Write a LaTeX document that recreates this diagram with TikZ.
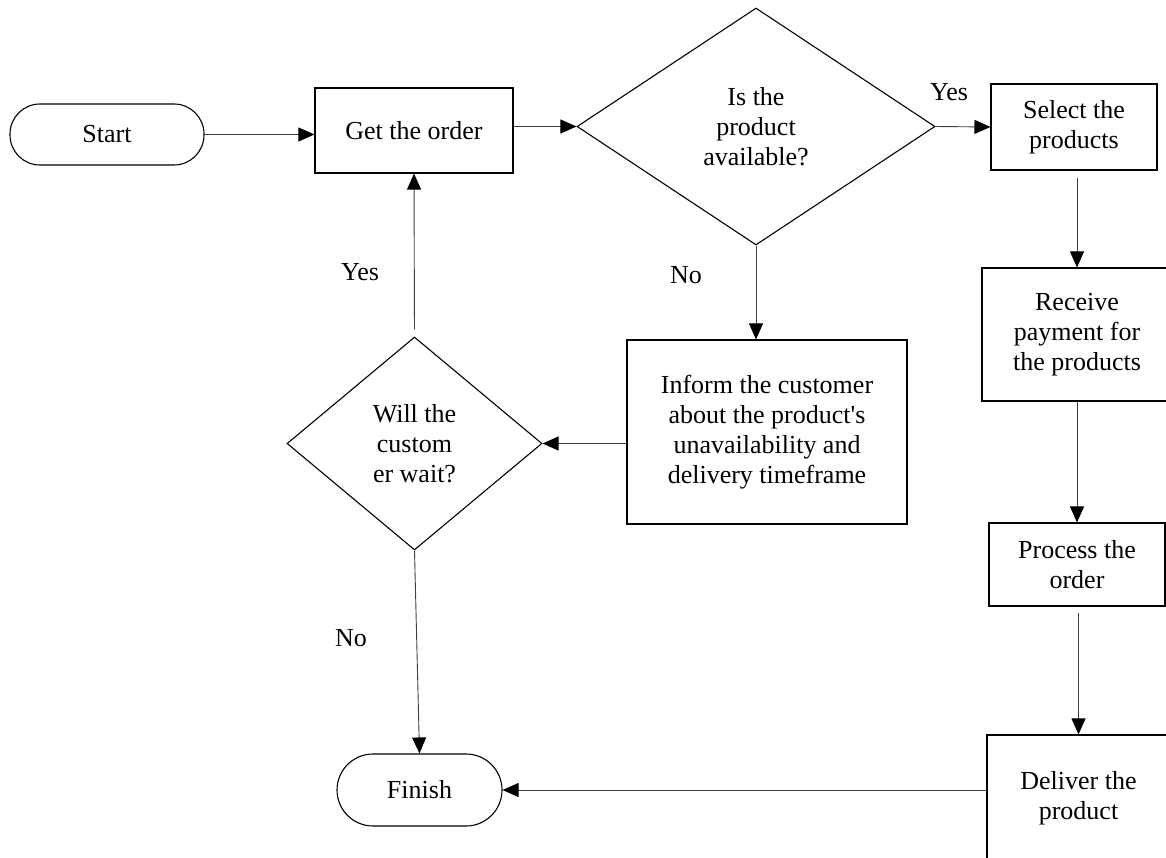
\documentclass[tikz,border=0pt]{standalone}
\usepackage{fontspec}
\setmainfont{Liberation Serif}[Ligatures=TeXOff]
\usetikzlibrary{shapes.geometric,arrows.meta,calc}
\begin{document}
\begin{tikzpicture}[x=1pt,y=-1pt,
  every node/.style={font=\fontsize{26}{30}\selectfont, align=center, inner sep=0pt},
  boxnode/.style={draw=black, line width=1.1pt, rectangle},
  termnode/.style={draw=black, line width=1.1pt, rectangle, rounded corners=#1},
  decnode/.style={draw=black, line width=1.1pt, diamond},
  conn/.style={draw=black!75, line width=0.9pt, -{Triangle[length=16pt,width=14pt,color=black]}},
  lbl/.style={}
]
\useasboundingbox (0,0) rectangle (1166,858);
\clip (0,0) rectangle (1166,858);

\node[termnode=30pt, minimum width=194pt, minimum height=61pt] (start) at (107,134.5) {Start};
\node[boxnode, minimum width=198pt, minimum height=85pt] (get) at (414,130.5) {Get the order};
\node[decnode, minimum width=358pt, minimum height=237pt] (d1) at (756,126.5) {Is the\\product\\available?};
\node[boxnode, minimum width=166pt, minimum height=86pt] (sel) at (1074,127) {Select the\\products};
\node[boxnode, minimum width=190pt, minimum height=133pt] (rec) at (1077,334.5) {Receive\\payment for\\the products};
\node[boxnode, minimum width=176pt, minimum height=83pt] (proc) at (1077,564.5) {Process the\\order};
\node[boxnode, minimum width=183pt, minimum height=126pt] (del) at (1078.5,798) {Deliver the\\product};
\node[boxnode, minimum width=280pt, minimum height=184pt] (inf) at (767,432) {Inform the customer\\about the product's\\unavailability and\\delivery timeframe};
\node[decnode, minimum width=255pt, minimum height=213pt] (d2) at (414.5,443.5) {Will the\\custom\\er wait?};
\node[termnode=36pt, minimum width=165pt, minimum height=72pt] (fin) at (419.5,790) {Finish};

\draw[conn] (start.east) -- (start.east -| get.west);
\draw[conn] (d1.west -| get.east) -- (d1.west);
\draw[conn] (d1.east) -- (sel.west);
\draw[conn, shorten <=7pt] (rec.north |- sel.south) -- (rec.north);
\draw[conn] (rec.south) -- (proc.north);
\draw[conn, shorten <=6pt] (del.north |- proc.south) -- (del.north);
\draw[conn] (fin.east -| del.west) -- (fin.east);
\draw[conn] (d1.south) -- (d1.south |- inf.north);
\draw[conn] (d2.east -| inf.west) -- (d2.east);
\draw[conn, shorten <=7pt] (d2.north) -- (get.south);
\draw[conn] (d2.south) -- (fin.north);

\node[lbl] (yes1) at (949,92) {Yes};
\node[lbl] (no1) at (686,275) {No};
\node[lbl] (yes2) at (360,272) {Yes};
\node[lbl] (no2) at (351,638) {No};
\end{tikzpicture}
\end{document}
